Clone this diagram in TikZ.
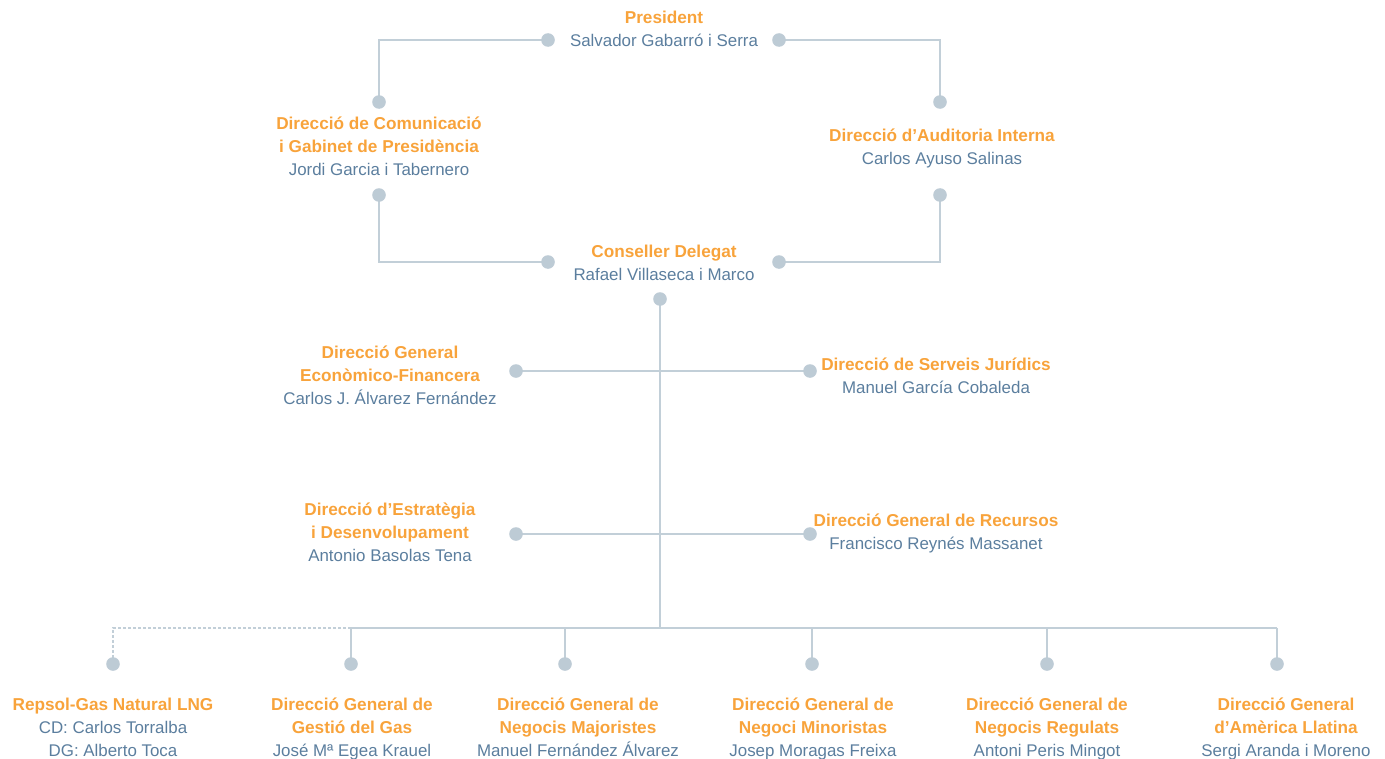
\documentclass[tikz,border=0pt]{standalone}
\usepackage{fontspec}
\setmainfont{Liberation Sans}
\definecolor{ttl}{HTML}{F8A33B}
\definecolor{nm}{HTML}{5B7E9E}
\definecolor{ln}{HTML}{C2CFD8}
\definecolor{dotc}{HTML}{BDCBD5}
\newcommand{\ttlx}[1]{{\color{ttl}\fontsize{17.2bp}{23bp}\selectfont\bfseries #1}}
\newcommand{\nmx}[1]{{\color{nm}\fontsize{16.9bp}{23bp}\selectfont #1}}
\begin{document}
\begin{tikzpicture}[x=1bp,y=-1bp,
  txt/.style={anchor=base,align=center,inner sep=0pt,font=\fontsize{17bp}{23bp}\selectfont},
  conn/.style={draw=ln,line width=1.2bp},
  dconn/.style={draw=ln,line width=1.2bp,dash pattern=on 3bp off 2bp},
  dotfill/.style={fill=dotc}]
\useasboundingbox (0,0) rectangle (1385,758);

% text blocks (anchor = baseline of last line)
\node[txt] (pres) at (664,46.5) {\ttlx{President}\\\nmx{Salvador Gabarró i Serra}};
\node[txt] (com) at (379,175) {\ttlx{Direcció de Comunicació}\\\ttlx{i Gabinet de Presidència}\\\nmx{Jordi Garcia i Tabernero}};
\node[txt] (aud) at (942,164) {\ttlx{Direcció d’Auditoria Interna}\\\nmx{Carlos Ayuso Salinas}};
\node[txt] (cd) at (664,280) {\ttlx{Conseller Delegat}\\\nmx{Rafael Villaseca i Marco}};
\node[txt] (eco) at (390,404) {\ttlx{Direcció General}\\\ttlx{Econòmico-Financera}\\\nmx{Carlos J. Álvarez Fernández}};
\node[txt] (jur) at (936,393) {\ttlx{Direcció de Serveis Jurídics}\\\nmx{Manuel García Cobaleda}};
\node[txt] (est) at (390,561) {\ttlx{Direcció d’Estratègia}\\\ttlx{i Desenvolupament}\\\nmx{Antonio Basolas Tena}};
\node[txt] (rec) at (936,549) {\ttlx{Direcció General de Recursos}\\\nmx{Francisco Reynés Massanet}};
\node[txt] (b1) at (113,756) {\ttlx{Repsol-Gas Natural LNG}\\\nmx{CD: Carlos Torralba}\\\nmx{DG: Alberto Toca}};
\node[txt] (b2) at (352,756) {\ttlx{Direcció General de}\\\ttlx{Gestió del Gas}\\\nmx{José Mª Egea Krauel}};
\node[txt] (b3) at (578,756) {\ttlx{Direcció General de}\\\ttlx{Negocis Majoristes}\\\nmx{Manuel Fernández Álvarez}};
\node[txt] (b4) at (813,756) {\ttlx{Direcció General de}\\\ttlx{Negoci Minoristas}\\\nmx{Josep Moragas Freixa}};
\node[txt] (b5) at (1047,756) {\ttlx{Direcció General de}\\\ttlx{Negocis Regulats}\\\nmx{Antoni Peris Mingot}};
\node[txt] (b6) at (1286,756) {\ttlx{Direcció General}\\\ttlx{d’Amèrica Llatina}\\\nmx{Sergi Aranda i Moreno}};

% dot coordinates
\coordinate (pL) at (548,40);
\coordinate (pR) at (779,40);
\coordinate (comT) at (379,102);
\coordinate (audT) at (940,102);
\coordinate (comB) at (379,195);
\coordinate (audB) at (940,195);
\coordinate (cdL) at (548,262);
\coordinate (cdR) at (779,262);
\coordinate (cdB) at (660,299);
\coordinate (ecoD) at (516,371);
\coordinate (jurD) at (810,371);
\coordinate (estD) at (516,534);
\coordinate (recD) at (810,534);
\coordinate (d1) at (113,664);
\coordinate (d2) at (351,664);
\coordinate (d3) at (565,664);
\coordinate (d4) at (812,664);
\coordinate (d5) at (1047,664);
\coordinate (d6) at (1277,664);
% junctions
\coordinate (jc) at (660,628);
\coordinate (j1) at (113,628);
\coordinate (j2) at (351,628);
\coordinate (j3) at (565,628);
\coordinate (j4) at (812,628);
\coordinate (j5) at (1047,628);
\coordinate (j6) at (1277,628);

% connectors
\draw[conn] (pL) -| (comT);
\draw[conn] (pR) -| (audT);
\draw[conn] (comB) |- (cdL);
\draw[conn] (audB) |- (cdR);
\draw[conn] (cdB) -- (jc);
\draw[conn] (ecoD) -- (jurD);
\draw[conn] (estD) -- (recD);
\draw[conn] (j2) -- (j6);
\draw[dconn] (j2) -- (j1) -- (d1);
\draw[conn] (j2) -- (d2);
\draw[conn] (j3) -- (d3);
\draw[conn] (j4) -- (d4);
\draw[conn] (j5) -- (d5);
\draw[conn] (j6) -- (d6);

% dots
\foreach \p in {pL,pR,comT,audT,comB,audB,cdL,cdR,cdB,ecoD,jurD,estD,recD,d1,d2,d3,d4,d5,d6}
  \fill[dotfill] (\p) circle (6.8bp);
\end{tikzpicture}
\end{document}
